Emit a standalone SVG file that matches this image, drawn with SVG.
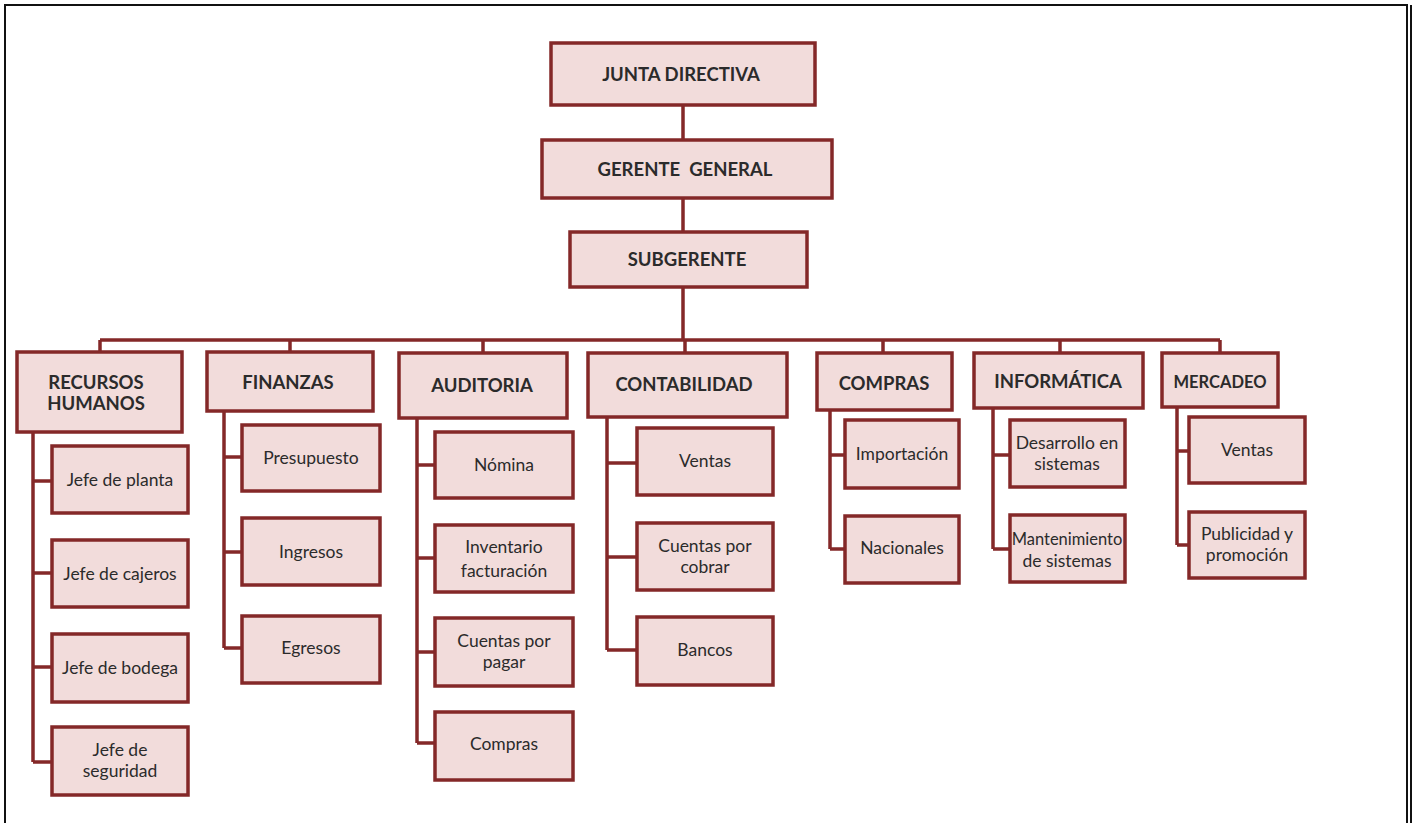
<svg xmlns="http://www.w3.org/2000/svg" width="1417" height="823" viewBox="0 0 1417 823">
  <style>
    .box { fill: #f2dcdb; stroke: #842828; stroke-width: 3.5; }
    .wire { fill: none; stroke: #842828; stroke-width: 3.5; }
    .frame { fill: none; stroke: #111; stroke-width: 2; }
    .head { font-family: Lato, "Open Sans", "Liberation Sans", sans-serif; font-weight: bold; font-size: 18.5px; fill: #2b2b2b; text-anchor: middle; }
    .item { font-family: Lato, "Open Sans", "Liberation Sans", sans-serif; font-size: 17.5px; fill: #2b2b2b; text-anchor: middle; }
  </style>

  <rect x="0" y="0" width="1417" height="823" fill="#ffffff"/>
  <!-- page frame -->
  <path class="frame" d="M5,823 V5 H1407 V823"/>
  <path class="frame" d="M1411,5 V823" stroke-width="1.5"/>

  <!-- connectors -->
  <g id="connectors">
    <path class="wire" d="M683,105 V140 M683,198 V232 M683,287 V340"/>
    <path class="wire" d="M100,340 H1220 M100,340 V352 M290,340 V352 M483,340 V353 M685,340 V353 M883,340 V353 M1060,340 V353 M1220,340 V353"/>
    <!-- Recursos Humanos -->
    <path class="wire" d="M33,432 V762 M33,481 H52 M33,573 H52 M33,667 H52 M33,762 H52"/>
    <!-- Finanzas -->
    <path class="wire" d="M224,411 V648 M224,457 H242 M224,552 H242 M224,648 H242"/>
    <!-- Auditoria -->
    <path class="wire" d="M417,418 V743 M417,465 H435 M417,558 H435 M417,652 H435 M417,743 H435"/>
    <!-- Contabilidad -->
    <path class="wire" d="M607,417 V650 M607,463 H637 M607,557 H637 M607,650 H637"/>
    <!-- Compras -->
    <path class="wire" d="M830,410 V549 M830,455 H845 M830,549 H845"/>
    <!-- Informatica -->
    <path class="wire" d="M993,408 V549 M993,455 H1010 M993,549 H1010"/>
    <!-- Mercadeo -->
    <path class="wire" d="M1177,407 V545 M1177,451 H1189 M1177,545 H1189"/>
  </g>

  <!-- top levels -->
  <g id="junta-directiva">
    <rect class="box" x="551" y="43" width="264" height="62"/>
    <text class="head" x="681" y="81">JUNTA DIRECTIVA</text>
  </g>
  <g id="gerente-general">
    <rect class="box" x="542" y="140" width="290" height="58"/>
    <text class="head" x="685" y="176" xml:space="preserve">GERENTE  GENERAL</text>
  </g>
  <g id="subgerente">
    <rect class="box" x="570" y="232" width="237" height="55"/>
    <text class="head" x="687" y="266">SUBGERENTE</text>
  </g>

  <!-- departments -->
  <g id="recursos-humanos">
    <rect class="box" x="17" y="352" width="165" height="80"/>
    <text class="head" x="96" y="389">RECURSOS</text>
    <text class="head" x="96" y="410">HUMANOS</text>
  </g>
  <g id="finanzas">
    <rect class="box" x="207" y="352" width="166" height="59"/>
    <text class="head" x="288" y="389">FINANZAS</text>
  </g>
  <g id="auditoria">
    <rect class="box" x="399" y="353" width="168" height="65"/>
    <text class="head" x="482" y="392">AUDITORIA</text>
  </g>
  <g id="contabilidad">
    <rect class="box" x="588" y="353" width="199" height="64"/>
    <text class="head" x="684" y="391">CONTABILIDAD</text>
  </g>
  <g id="compras">
    <rect class="box" x="817" y="353" width="135" height="57"/>
    <text class="head" x="884" y="390">COMPRAS</text>
  </g>
  <g id="informatica">
    <rect class="box" x="974" y="353" width="169" height="55"/>
    <text class="head" x="1058" y="388">INFORMÁTICA</text>
  </g>
  <g id="mercadeo">
    <rect class="box" x="1162" y="353" width="116" height="54"/>
    <text class="head" x="1220" y="388" style="font-size:16.5px">MERCADEO</text>
  </g>

  <!-- Recursos Humanos children -->
  <g id="jefe-planta">
    <rect class="box" x="52" y="446" width="136" height="67"/>
    <text class="item" x="120" y="486">Jefe de planta</text>
  </g>
  <g id="jefe-cajeros">
    <rect class="box" x="52" y="540" width="136" height="67"/>
    <text class="item" x="120" y="580">Jefe de cajeros</text>
  </g>
  <g id="jefe-bodega">
    <rect class="box" x="52" y="634" width="136" height="68"/>
    <text class="item" x="120" y="674">Jefe de bodega</text>
  </g>
  <g id="jefe-seguridad">
    <rect class="box" x="52" y="727" width="136" height="68"/>
    <text class="item" x="120" y="756">Jefe de</text>
    <text class="item" x="120" y="777">seguridad</text>
  </g>

  <!-- Finanzas children -->
  <g id="presupuesto">
    <rect class="box" x="242" y="425" width="138" height="66"/>
    <text class="item" x="311" y="464">Presupuesto</text>
  </g>
  <g id="ingresos">
    <rect class="box" x="242" y="518" width="138" height="67"/>
    <text class="item" x="311" y="558">Ingresos</text>
  </g>
  <g id="egresos">
    <rect class="box" x="242" y="616" width="138" height="67"/>
    <text class="item" x="311" y="654">Egresos</text>
  </g>

  <!-- Auditoria children -->
  <g id="nomina">
    <rect class="box" x="435" y="432" width="138" height="66"/>
    <text class="item" x="504" y="471">Nómina</text>
  </g>
  <g id="inventario">
    <rect class="box" x="435" y="525" width="138" height="67"/>
    <text class="item" x="504" y="553">Inventario</text>
    <text class="item" x="504" y="577">facturación</text>
  </g>
  <g id="cuentas-pagar">
    <rect class="box" x="435" y="618" width="138" height="68"/>
    <text class="item" x="504" y="647">Cuentas por</text>
    <text class="item" x="504" y="668">pagar</text>
  </g>
  <g id="compras-auditoria">
    <rect class="box" x="435" y="712" width="138" height="68"/>
    <text class="item" x="504" y="750">Compras</text>
  </g>

  <!-- Contabilidad children -->
  <g id="ventas-contabilidad">
    <rect class="box" x="637" y="428" width="136" height="67"/>
    <text class="item" x="705" y="467">Ventas</text>
  </g>
  <g id="cuentas-cobrar">
    <rect class="box" x="637" y="523" width="136" height="67"/>
    <text class="item" x="705" y="552">Cuentas por</text>
    <text class="item" x="705" y="573">cobrar</text>
  </g>
  <g id="bancos">
    <rect class="box" x="637" y="617" width="136" height="68"/>
    <text class="item" x="705" y="656">Bancos</text>
  </g>

  <!-- Compras children -->
  <g id="importacion">
    <rect class="box" x="845" y="420" width="114" height="68"/>
    <text class="item" x="902" y="460">Importación</text>
  </g>
  <g id="nacionales">
    <rect class="box" x="845" y="516" width="114" height="67"/>
    <text class="item" x="902" y="554">Nacionales</text>
  </g>

  <!-- Informatica children -->
  <g id="desarrollo">
    <rect class="box" x="1010" y="420" width="115" height="67"/>
    <text class="item" x="1067" y="449">Desarrollo en</text>
    <text class="item" x="1067" y="470">sistemas</text>
  </g>
  <g id="mantenimiento">
    <rect class="box" x="1010" y="515" width="115" height="67"/>
    <text class="item" x="1067" y="545" style="font-size:16.5px">Mantenimiento</text>
    <text class="item" x="1067" y="567">de sistemas</text>
  </g>

  <!-- Mercadeo children -->
  <g id="ventas-mercadeo">
    <rect class="box" x="1189" y="417" width="116" height="66"/>
    <text class="item" x="1247" y="456">Ventas</text>
  </g>
  <g id="publicidad">
    <rect class="box" x="1189" y="512" width="116" height="66"/>
    <text class="item" x="1247" y="540">Publicidad y</text>
    <text class="item" x="1247" y="561">promoción</text>
  </g>
</svg>
